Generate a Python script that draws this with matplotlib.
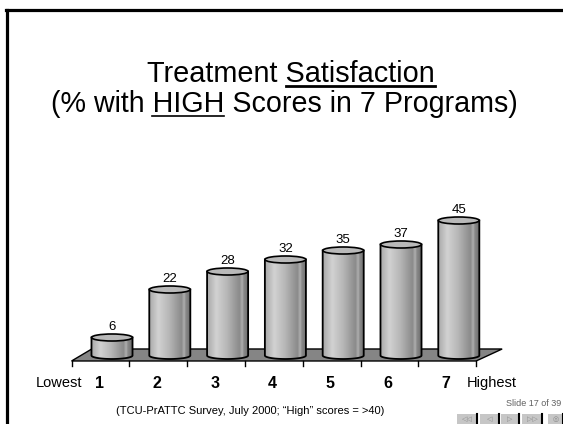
import numpy as np
import matplotlib
matplotlib.use('Agg')
import matplotlib.pyplot as plt
from matplotlib.patches import Polygon, Ellipse, PathPatch, Rectangle
from matplotlib.path import Path
from matplotlib.lines import Line2D
from matplotlib.colors import LinearSegmentedColormap

# data
programs = ['1', '2', '3', '4', '5', '6', '7']
high_pct = [6, 22, 28, 32, 35, 37, 45]

title = 'Treatment Satisfaction'
subtitle = '(% with HIGH Scores in 7 Programs)'
footnote = '(TCU-PrATTC Survey, July 2000; \u201cHigh\u201d scores = >40)'
slide_no = 'Slide 17 of 39'

W, H = 563, 424
fig = plt.figure(figsize=(W / 100, H / 100), dpi=100)
fig.patch.set_facecolor('white')


def fx(px):
    return px / W


def fy(py):
    return 1 - py / H


title_font = ['Liberation Sans', 'DejaVu Sans']
body_font = ['Liberation Sans', 'DejaVu Sans']

# slide frame
fig.add_artist(Line2D([fx(6.5), fx(6.5)], [fy(9.5), fy(H)], transform=fig.transFigure, color='black', lw=2.3))
fig.add_artist(Line2D([fx(5.5), fx(W)], [fy(9.5), fy(9.5)], transform=fig.transFigure, color='black', lw=2.3))

# chart axes: x in program index, y in percent
ax = fig.add_axes([0, 0, 1, 1])
ax.axis('off')
x_lim = ((0 - 112) / 57.8, (W - 112) / 57.8)
y_lim = ((355.5 - H) / 3.0, 355.5 / 3.0)

# floor
floor = Polygon([(-0.70, -1.83), (6.30, -1.83), (6.75, 2.17), (-0.35, 2.17)],
                closed=True, fc='#858585', ec='black', lw=1.0, zorder=1)
ax.add_patch(floor)
for k in range(len(programs) + 1):
    ax.plot([-0.70 + k, -0.70 + k], [-1.83, -3.6], color='black', lw=1.0, zorder=1)

# cylinders
cyl_cmap = LinearSegmentedColormap.from_list('cyl', [
    (0.00, '#a8a8a8'), (0.22, '#d2d2d2'), (0.50, '#b4b4b4'),
    (0.78, '#8a8a8a'), (0.84, '#b0b0b0'), (0.88, '#8a8a8a'), (1.00, '#6a6a6a')])
grad = np.linspace(0, 1, 128)[np.newaxis, :]
bw = 0.71
eh = 1.17
for i, v in enumerate(high_pct):
    cx = i
    t = np.linspace(np.pi, 2 * np.pi, 40)
    verts = [(cx - bw / 2, v)]
    verts += list(zip(cx + bw / 2 * np.cos(t), eh * np.sin(t)))
    verts += [(cx + bw / 2, v), (cx - bw / 2, v)]
    codes = [Path.MOVETO] + [Path.LINETO] * (len(verts) - 2) + [Path.CLOSEPOLY]
    body = PathPatch(Path(verts, codes), fc='none', ec='black', lw=1.3, zorder=3)
    ax.add_patch(body)
    im = ax.imshow(grad, cmap=cyl_cmap, extent=[cx - bw / 2, cx + bw / 2, -eh, v],
                   aspect='auto', zorder=2, interpolation='bilinear')
    im.set_clip_path(body)
    ax.add_patch(Ellipse((cx, v), bw, 2 * eh, fc='#b9b9b9', ec='black', lw=1.2, zorder=4))
    ax.text(cx, v + eh + 0.2, str(v), ha='center', va='bottom', fontsize=9.5,
            family=body_font, zorder=5)

# category labels
lab_y = (355.5 - 383) / 3.0
for i, p in enumerate(programs):
    ax.text(i - 0.22, lab_y, p, ha='center', va='center', fontsize=11.5,
            fontweight='bold', family=body_font)
ax.text((82 - 112) / 57.8, lab_y, 'Lowest', ha='right', va='center', fontsize=10.5, family=body_font)
ax.text((467 - 112) / 57.8, lab_y, 'Highest', ha='left', va='center', fontsize=10.5, family=body_font)

ax.set_xlim(*x_lim)
ax.set_ylim(*y_lim)

# titles with underlined words
t1 = fig.text(fx(291), fy(82), title, ha='center', va='baseline', fontsize=20.8, family=title_font)
t2 = fig.text(fx(284), fy(112), subtitle, ha='center', va='baseline', fontsize=20.6, family=title_font)
fig.canvas.draw()
r = fig.canvas.get_renderer()


def text_width(s, ref):
    tmp = fig.text(0, 0, s, fontsize=ref.get_fontsize(), family=ref.get_family())
    wpx = tmp.get_window_extent(r).width
    tmp.remove()
    return wpx


b1 = t1.get_window_extent(r)
w_sat = text_width('Satisfaction', t1)
fig.add_artist(Line2D([(b1.x1 - w_sat) / W, b1.x1 / W], [fy(86), fy(86)],
                      transform=fig.transFigure, color='black', lw=2.0))
b2 = t2.get_window_extent(r)
x_high = b2.x0 + text_width('(% with H', t2) - text_width('H', t2)
w_high = text_width('HIGH', t2)
fig.add_artist(Line2D([x_high / W, (x_high + w_high) / W], [fy(116), fy(116)],
                      transform=fig.transFigure, color='black', lw=1.2))

# footnote and slide navigation
fig.text(fx(250), fy(411), footnote, ha='center', va='center', fontsize=8, family=body_font)
fig.text(fx(561), fy(403), slide_no, ha='right', va='center', fontsize=6.5, color='#606060', family=body_font)
glyphs = ['\u25c1\u25c1', '\u25c1', '\u25b7', '\u25b7\u25b7', '\u25ce']
for (x0, x1), g in zip([(457, 477), (480, 499), (501, 519), (522, 542), (548, 563)], glyphs):
    fig.add_artist(Rectangle((fx(x0), fy(H)), (x1 - x0) / W, 10.5 / H, transform=fig.transFigure,
                             fc='#c6c6c6', ec='none'))
    fig.add_artist(Line2D([fx(x1), fx(x1)], [fy(413.5), fy(H)], transform=fig.transFigure,
                          color='black', lw=1.5))
    fig.text(fx((x0 + x1) / 2), fy(419), g, ha='center', va='center', fontsize=5,
             color='#8a8a8a', family='DejaVu Sans')

fig.savefig('out.png', dpi=100)
